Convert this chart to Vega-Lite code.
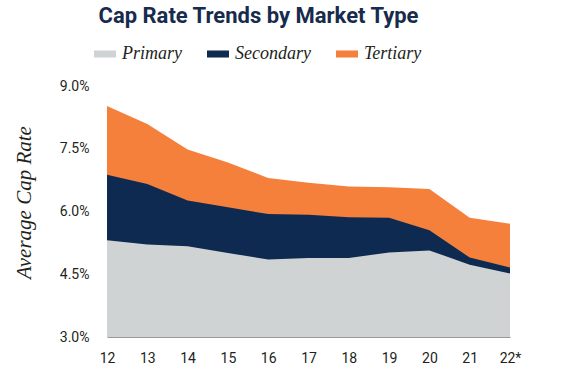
{
  "$schema": "https://vega.github.io/schema/vega-lite/v6.json",
  "autosize": "none",
  "width": 403,
  "height": 251,
  "padding": {"left": 107, "top": 86, "right": 72, "bottom": 47},
  "background": "white",
  "title": {
    "text": "Cap Rate Trends by Market Type",
    "font": "Roboto",
    "fontSize": 22,
    "fontWeight": "bold",
    "color": "#172b4d",
    "anchor": "middle",
    "dx": -50,
    "offset": 15
  },
  "data": {
    "values": [
      {"year": "12", "type": "Primary", "rate": 5.31},
      {"year": "13", "type": "Primary", "rate": 5.21},
      {"year": "14", "type": "Primary", "rate": 5.17},
      {"year": "15", "type": "Primary", "rate": 5.01},
      {"year": "16", "type": "Primary", "rate": 4.85},
      {"year": "17", "type": "Primary", "rate": 4.89},
      {"year": "18", "type": "Primary", "rate": 4.89},
      {"year": "19", "type": "Primary", "rate": 5.02},
      {"year": "20", "type": "Primary", "rate": 5.07},
      {"year": "21", "type": "Primary", "rate": 4.73},
      {"year": "22*", "type": "Primary", "rate": 4.52},
      {"year": "12", "type": "Secondary", "rate": 6.88},
      {"year": "13", "type": "Secondary", "rate": 6.66},
      {"year": "14", "type": "Secondary", "rate": 6.26},
      {"year": "15", "type": "Secondary", "rate": 6.10},
      {"year": "16", "type": "Secondary", "rate": 5.94},
      {"year": "17", "type": "Secondary", "rate": 5.92},
      {"year": "18", "type": "Secondary", "rate": 5.86},
      {"year": "19", "type": "Secondary", "rate": 5.85},
      {"year": "20", "type": "Secondary", "rate": 5.55},
      {"year": "21", "type": "Secondary", "rate": 4.90},
      {"year": "22*", "type": "Secondary", "rate": 4.66},
      {"year": "12", "type": "Tertiary", "rate": 8.52},
      {"year": "13", "type": "Tertiary", "rate": 8.09},
      {"year": "14", "type": "Tertiary", "rate": 7.48},
      {"year": "15", "type": "Tertiary", "rate": 7.17},
      {"year": "16", "type": "Tertiary", "rate": 6.80},
      {"year": "17", "type": "Tertiary", "rate": 6.69},
      {"year": "18", "type": "Tertiary", "rate": 6.60},
      {"year": "19", "type": "Tertiary", "rate": 6.58},
      {"year": "20", "type": "Tertiary", "rate": 6.54},
      {"year": "21", "type": "Tertiary", "rate": 5.85},
      {"year": "22*", "type": "Tertiary", "rate": 5.71}
    ]
  },
  "encoding": {
    "x": {
      "field": "year",
      "type": "ordinal",
      "sort": null,
      "scale": {"type": "point", "padding": 0},
      "axis": {
        "title": null,
        "labelAngle": 0,
        "ticks": false,
        "labelPadding": 14,
        "labelFont": "Roboto",
        "labelFontSize": 14,
        "labelColor": "#231f20",
        "domainColor": "#9a9a9a",
        "domainWidth": 1,
        "grid": false
      }
    },
    "y": {
      "field": "rate",
      "type": "quantitative",
      "scale": {"domain": [3, 9], "zero": false, "nice": false},
      "axis": {
        "title": "Average Cap Rate",
        "titleFont": "Liberation Serif",
        "titleFontStyle": "italic",
        "titleFontWeight": "normal",
        "titleFontSize": 21,
        "titleColor": "#231f20",
        "titlePadding": 25,
        "titleY": 116,
        "values": [3, 4.5, 6, 7.5, 9],
        "labelExpr": "format(datum.value, '.1f') + '%'",
        "labelFont": "Roboto",
        "labelFontSize": 14,
        "labelColor": "#231f20",
        "labelPadding": 18,
        "ticks": false,
        "domain": false,
        "grid": false
      }
    },
    "y2": {"datum": 3},
    "color": {
      "field": "type",
      "type": "nominal",
      "scale": {
        "domain": ["Primary", "Secondary", "Tertiary"],
        "range": ["#d0d3d4", "#0f2a50", "#f4803c"]
      },
      "legend": {
        "title": null,
        "orient": "none",
        "direction": "horizontal",
        "legendX": -13,
        "legendY": -43,
        "symbolType": "M-1,-0.32H1V0.32H-1Z",
        "symbolSize": 484,
        "symbolStrokeWidth": 0,
        "symbolOpacity": 1,
        "labelFont": "Liberation Serif",
        "labelFontStyle": "italic",
        "labelFontSize": 18,
        "labelColor": "#231f20",
        "labelOffset": 6,
        "columnPadding": 25
      }
    }
  },
  "layer": [
    {"transform": [{"filter": "datum.type === 'Tertiary'"}], "mark": {"type": "area", "opacity": 1}},
    {"transform": [{"filter": "datum.type === 'Secondary'"}], "mark": {"type": "area", "opacity": 1}},
    {"transform": [{"filter": "datum.type === 'Primary'"}], "mark": {"type": "area", "opacity": 1}}
  ],
  "config": {"view": {"stroke": null}}
}
